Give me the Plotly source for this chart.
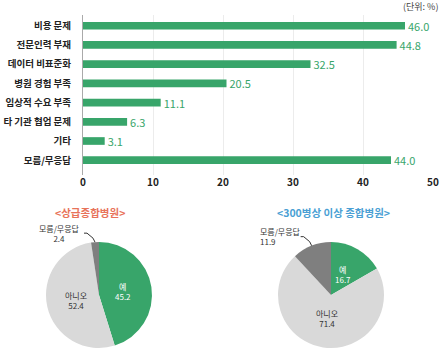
import math
import plotly.graph_objects as go

# ---- data ----
categories = ["비용 문제", "전문인력 부재", "데이터 비표준화", "병원 경험 부족",
              "임상적 수요 부족", "타 기관 협업 문제", "기타", "모름/무응답"]
values = [46.0, 44.8, 32.5, 20.5, 11.1, 6.3, 3.1, 44.0]
x_ticks = [0, 10, 20, 30, 40, 50]

pie_labels = ["예", "아니오", "모름/무응답"]
pie_left = [45.2, 52.4, 2.4]
pie_right = [16.7, 71.4, 11.9]
title_left = "<상급종합병원>"
title_right = "<300병상 이상 종합병원>"
unit_text = "(단위: %)"

GREEN = "#38a56a"
LIGHT = "#d9d9d9"
DARK = "#7f7f7f"
FONT = "Noto Sans CJK KR"
W, H = 445, 354

def px(x):
    return x / W

def py(y):
    return 1 - y / H

fig = go.Figure()

ypos = list(range(len(categories)))
fig.add_trace(go.Bar(
    x=values, y=ypos, orientation="h", width=0.4,
    marker=dict(color=GREEN, line=dict(width=0)),
    text=[f"{v:.1f}" for v in values], textposition="outside",
    constraintext="none",
    textfont=dict(color=GREEN, size=11, family=FONT),
    cliponaxis=False, hoverinfo="skip", showlegend=False,
))

fig.update_layout(
    width=W, height=H,
    margin=dict(l=0, r=0, t=0, b=0),
    paper_bgcolor="white", plot_bgcolor="white",
    font=dict(family=FONT, color="#333"),
    xaxis=dict(domain=[px(83), px(433)], range=[0, 50], tickvals=x_ticks,
               showgrid=True, gridcolor="#ececec", gridwidth=1,
               zeroline=False, showline=False, ticks="", automargin=False,
               tickfont=dict(size=10, color="#222", family=FONT, weight="bold"),
               anchor="y"),
    yaxis=dict(domain=[py(175), py(15)], range=[7.77, -0.56],
               tickvals=ypos, ticktext=categories, showgrid=False,
               zeroline=False, showline=True, linecolor="#aaaaaa", linewidth=1,
               ticks="", ticklabelstandoff=9, automargin=False,
               tickfont=dict(size=9.5, color="#222", family=FONT, weight="bold")),
    bargap=0.6,
)

# ---- pies ----
R = 53
# (values, center x, center y, title, title colour, title x, label dx, label anchor)
pies = [(pie_left, 99, 295, title_left, "#e8735a", 90, -28, "center"),
        (pie_right, 331, 295, title_right, "#4a9fd4", 333, -46, "left")]
for vals, cx, cy, title, tcolor, tx, ldx, lanchor in pies:
    fig.add_trace(go.Pie(
        values=vals, labels=pie_labels, sort=False, direction="clockwise",
        rotation=0, marker=dict(colors=[GREEN, LIGHT, DARK], line=dict(width=0)),
        textinfo="none", hoverinfo="skip", showlegend=False,
        domain=dict(x=[px(cx - R), px(cx + R)], y=[py(cy + R), py(cy - R)]),
    ))
    fig.add_annotation(x=px(tx), y=py(212), xref="paper", yref="paper",
                       xanchor="center", yanchor="middle",
                       text=f"<b>{title.replace('<', '&lt;').replace('>', '&gt;')}</b>",
                       showarrow=False, font=dict(size=10.5, color=tcolor, family=FONT))
    total = sum(vals)
    cum = 0
    for i, v in enumerate(vals):
        mid = (cum + v / 2) / total * 2 * math.pi
        cum += v
        sx, sy = math.sin(mid), -math.cos(mid)
        if i < 2:
            rr = 0.45 * R
            color = "white" if i == 0 else "#333"
            fig.add_annotation(x=px(cx + rr * sx), y=py(cy + rr * sy),
                               xref="paper", yref="paper",
                               xanchor="center", yanchor="middle",
                               text=f"{pie_labels[i]}<br>{v}", showarrow=False,
                               font=dict(size=8, color=color, family=FONT))
        else:
            ex, ey = cx + R * sx, cy + R * sy
            mx, my = ex - 2, ey - 4
            lx, ly = ex - 8, ey - 9
            fig.add_shape(type="path", xref="paper", yref="paper",
                          path=f"M {px(ex)},{py(ey)} L {px(mx)},{py(my)} L {px(lx)},{py(ly)} L {px(lx-3)},{py(ly)}",
                          line=dict(color="#333", width=1))
            fig.add_annotation(x=px(lx + ldx), y=py(ly), xref="paper", yref="paper",
                               xanchor=lanchor, yanchor="middle",
                               text=f"{pie_labels[i]}<br>{v}", showarrow=False,
                               align=lanchor,
                               font=dict(size=8, color="#333", family=FONT))

fig.add_annotation(x=px(440), y=py(7), xref="paper", yref="paper",
                   xanchor="right", yanchor="middle", text=unit_text, showarrow=False,
                   font=dict(size=9, color="#444", family=FONT))

fig.write_html("out.html")
